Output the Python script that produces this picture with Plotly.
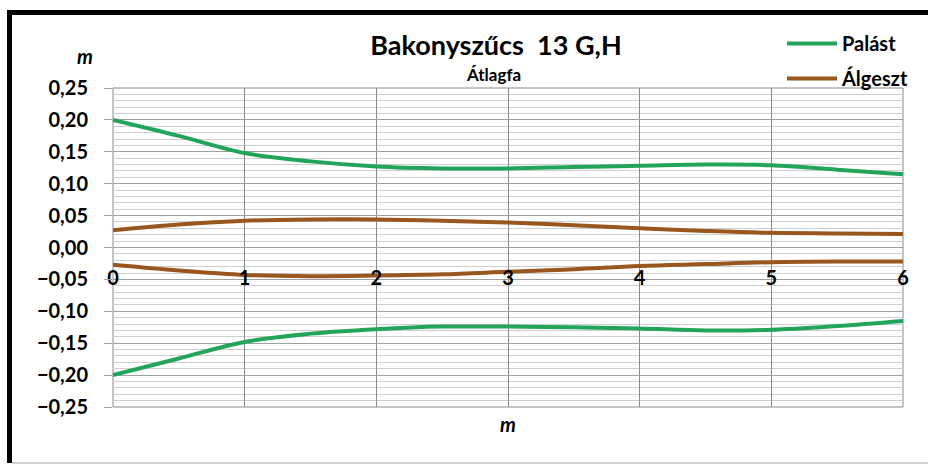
import plotly.graph_objects as go

# Data
x_m = [0, 0.5, 1, 1.5, 2, 2.5, 3, 3.5, 4, 4.5, 5, 5.5, 6]
palast_upper = [0.200, 0.175, 0.148, 0.135, 0.127, 0.124, 0.124, 0.126, 0.128, 0.130, 0.129, 0.122, 0.115]
palast_lower = [-0.200, -0.174, -0.148, -0.135, -0.128, -0.124, -0.124, -0.125, -0.127, -0.130, -0.129, -0.123, -0.115]
algeszt_upper = [0.027, 0.036, 0.042, 0.044, 0.044, 0.042, 0.039, 0.035, 0.030, 0.026, 0.023, 0.022, 0.021]
algeszt_lower = [-0.027, -0.036, -0.043, -0.045, -0.044, -0.042, -0.038, -0.034, -0.029, -0.026, -0.023, -0.022, -0.022]
x_ticks = [0, 1, 2, 3, 4, 5, 6]
y_ticks = [0.25, 0.20, 0.15, 0.10, 0.05, 0.00, -0.05, -0.10, -0.15, -0.20, -0.25]

GREEN = "#22a55b"
BROWN = "#9a561f"
FONT = "Lato"

W, H = 928, 466
L, R, T, B = 113, 25, 88, 59
pw, ph = W - L - R, H - T - B


def px2x(px):
    return (px - L) / pw


def py2y(py):
    return (H - B - py) / ph


fig = go.Figure()
fig.add_trace(go.Scatter(x=x_m, y=palast_upper, mode="lines", name="Palást",
                         line=dict(color=GREEN, width=4, shape="spline"),
                         legendgroup="p"))
fig.add_trace(go.Scatter(x=x_m, y=palast_lower, mode="lines", name="Palást",
                         line=dict(color=GREEN, width=4, shape="spline"),
                         legendgroup="p", showlegend=False))
fig.add_trace(go.Scatter(x=x_m, y=algeszt_upper, mode="lines", name="Álgeszt",
                         line=dict(color=BROWN, width=4, shape="spline"),
                         legendgroup="a"))
fig.add_trace(go.Scatter(x=x_m, y=algeszt_lower, mode="lines", name="Álgeszt",
                         line=dict(color=BROWN, width=4, shape="spline"),
                         legendgroup="a", showlegend=False))

BOLD = dict(family=FONT, color="black", weight="bold")

fig.update_layout(
    width=W, height=H,
    margin=dict(l=L, r=R, t=T, b=B),
    paper_bgcolor="white", plot_bgcolor="white",
    separators=", ",
    font=dict(family=FONT, color="black"),
    title=dict(text="Bakonyszűcs  13 G,H", font=dict(size=27, **BOLD),
               xref="paper", x=px2x(496), xanchor="center",
               yref="container", y=1 - 46 / H, yanchor="middle"),
    showlegend=True,
    legend=dict(x=px2x(782), y=py2y(24), xanchor="left", yanchor="top",
                font=dict(size=20, **BOLD),
                bgcolor="rgba(0,0,0,0)", traceorder="grouped", tracegroupgap=6,
                itemwidth=50),
    xaxis=dict(range=[0, 6], tickvals=x_ticks,
               showgrid=True, gridcolor="#8a8a8a", gridwidth=1,
               zeroline=False, showline=False,
               anchor="free", position=0.5, ticks="", ticklabelstandoff=16,
               tickfont=dict(size=20, **BOLD)),
    yaxis=dict(range=[-0.25, 0.25], tickvals=y_ticks, tickformat=".2f",
               showgrid=True, gridcolor="#a0a0a0", gridwidth=1,
               minor=dict(dtick=0.01, tick0=0, showgrid=True, gridcolor="#cfcfcf", gridwidth=1),
               zeroline=False, showline=False,
               ticks="outside", ticklen=8, tickcolor="#a0a0a0",
               ticklabelstandoff=12,
               tickfont=dict(size=20, **BOLD)),
)

# axis-label annotations and subtitle
fig.add_annotation(text="Átlagfa", xref="paper", yref="paper",
                   x=px2x(493), y=py2y(74), yanchor="middle", showarrow=False,
                   font=dict(size=17, **BOLD))
fig.add_annotation(text="<i>m</i>", xref="paper", yref="paper",
                   x=px2x(75), y=py2y(56), yanchor="middle", showarrow=False,
                   font=dict(size=20, **BOLD))
fig.add_annotation(text="<i>m</i>", xref="paper", yref="paper",
                   x=px2x(508), y=py2y(424), yanchor="middle", showarrow=False,
                   font=dict(size=20, **BOLD))

# plot border
fig.add_shape(type="rect", xref="paper", yref="paper", x0=0, x1=1, y0=0, y1=1,
              line=dict(color="#8a8a8a", width=1), layer="below")
# outer frame (thick black left/top, faint bottom)
fig.add_shape(type="line", xref="paper", yref="paper",
              x0=px2x(9.5), x1=px2x(9.5), y0=py2y(10), y1=py2y(463),
              line=dict(color="black", width=5))
fig.add_shape(type="line", xref="paper", yref="paper",
              x0=px2x(7), x1=px2x(928), y0=py2y(12.5), y1=py2y(12.5),
              line=dict(color="black", width=5))
fig.add_shape(type="line", xref="paper", yref="paper",
              x0=px2x(12), x1=px2x(928), y0=py2y(463), y1=py2y(463),
              line=dict(color="#d0d0d0", width=2))

fig.write_html("out.html", config={"displayModeBar": False},
               post_script="document.body.style.margin='0px';document.body.style.overflow='hidden';")
